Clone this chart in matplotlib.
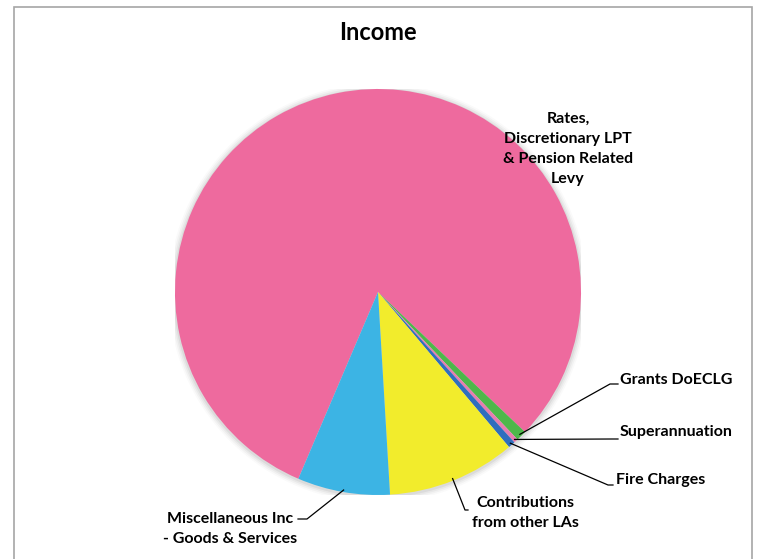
import numpy as np
import matplotlib
matplotlib.use("Agg")
import matplotlib.pyplot as plt
from matplotlib.patches import Rectangle

plt.rcParams['font.family'] = ['Lato', 'DejaVu Sans']

# ---- data (shares of income, %) ----
categories = ["Rates, Discretionary LPT & Pension Related Levy", "Grants DoECLG",
              "Superannuation", "Fire Charges", "Contributions from other LAs",
              "Miscellaneous Inc - Goods & Services"]
labels = ["Rates,\nDiscretionary LPT\n& Pension Related\nLevy", "Grants DoECLG",
          "Superannuation", "Fire Charges", "Contributions\nfrom other LAs",
          "Miscellaneous Inc\n- Goods & Services"]
values = [80.69, 0.83, 0.33, 0.56, 10.22, 7.36]
colors = ["#EE6A9E", "#4DB84A", "#E77DB0", "#2F6EBE", "#F2EC2C", "#3CB4E4"]

W, H = 758, 559
fig = plt.figure(figsize=(W / 100, H / 100), dpi=100)
fig.patch.set_facecolor("white")

# frame
fig.add_artist(Rectangle((14 / W, -0.01), (752 - 14) / W, (H - 7) / H + 0.01,
                         transform=fig.transFigure, fill=False,
                         edgecolor="#A6A6A6", linewidth=1.2))

cx, cy, R = 378, 292, 203
ax = fig.add_axes([(cx - R) / W, (H - cy - R) / H, 2 * R / W, 2 * R / H])
ax.axis("off")

# soft shadow
for i, a in enumerate([0.05, 0.04, 0.03, 0.02]):
    ax.add_patch(plt.Circle((0.0, -0.005), 1.0 + 0.008 * (i + 1), color="#000000",
                            alpha=a, zorder=0, lw=0))

wedges, _ = ax.pie(values, colors=colors, startangle=246.9, counterclock=False,
                   radius=1.0, wedgeprops=dict(linewidth=0))
ax.set_xlim(-1, 1)
ax.set_ylim(-1, 1)
ax.set_aspect("equal")


def px(x, y):
    return ((x - cx) / R, (cy - y) / R)


def edge_point(w, frac=0.5, r=0.99):
    t = np.deg2rad(w.theta1 + frac * (w.theta2 - w.theta1))
    return r * np.cos(t), r * np.sin(t)


fs = 11.5
ls = 1.55
# Rates label (no leader)
tx, ty = px(568, 149)
ax.text(tx, ty, labels[0], ha="center", va="center", fontsize=fs,
        fontweight="bold", linespacing=ls, clip_on=False)

# labels with leader lines: (index, elbow px, end px, text px, ha)
specs = [
    (1, (610, 384), (618, 384), (620, 380), "left"),
    (2, (612, 439), (618, 439), (620, 432), "left"),
    (3, (608, 485), (613, 485), (616, 480), "left"),
    (4, (465, 510), (468, 510), (525, 513), "center"),
    (5, (307, 519), (298, 519), (230, 529), "center"),
]
for idx, elbow, end, tpos, ha in specs:
    sx, sy = edge_point(wedges[idx])
    ex, ey = px(*elbow)
    fx, fy = px(*end)
    ax.plot([sx, ex, fx], [sy, ey, fy], color="black", lw=0.9,
            clip_on=False, zorder=5)
    tx, ty = px(*tpos)
    ax.text(tx, ty, labels[idx], ha=ha, va="center", fontsize=fs,
            fontweight="bold", linespacing=ls, clip_on=False)

fig.text(cx / W, 1 - 32 / H, "Income", ha="center", va="center",
         fontsize=17, fontweight="bold")

fig.savefig("out.png", dpi=100, facecolor="white")
